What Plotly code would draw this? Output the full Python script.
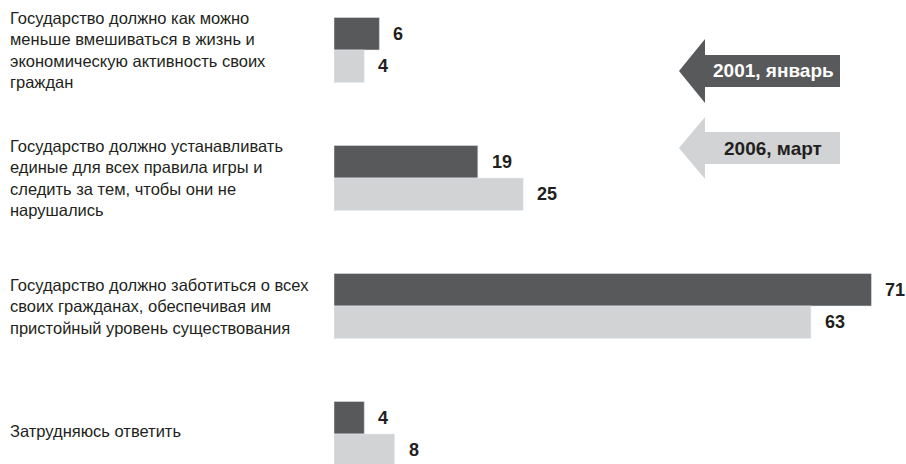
import plotly.graph_objects as go

categories = [
    "Государство должно как можно<br>меньше вмешиваться в жизнь и<br>экономическую активность своих<br>граждан",
    "Государство должно устанавливать<br>единые для всех правила игры и<br>следить за тем, чтобы они не<br>нарушались",
    "Государство должно заботиться о всех<br>своих гражданах, обеспечивая им<br>пристойный уровень существования",
    "Затрудняюсь ответить",
]
series_names = ["2001, январь", "2006, март"]
values_2001 = [6, 19, 71, 4]
values_2006 = [4, 25, 63, 8]

DARK = "#58595b"
LIGHT = "#d1d3d4"
TXT = "#231f20"
W, H = 906, 464
REG = "Liberation Sans, Arial, sans-serif"

pos = list(range(len(categories)))

fig = go.Figure()
fig.add_trace(go.Bar(y=pos, x=values_2001, orientation="h", marker_color=DARK,
                     name=series_names[0], hoverinfo="skip"))
fig.add_trace(go.Bar(y=pos, x=values_2006, orientation="h", marker_color=LIGHT,
                     name=series_names[1], hoverinfo="skip"))

ann = []
half = 0.127
label_shift = [0, 0, 0, 3]
for i, (a, b) in enumerate(zip(values_2001, values_2006)):
    for v, off in ((a, -half), (b, half)):
        ann.append(dict(x=v, y=i + off, xref="x", yref="y", text=f"<b>{v}</b>",
                        showarrow=False, xanchor="left", yanchor="middle", xshift=12,
                        font=dict(family=REG, size=18, color=TXT)))
    ann.append(dict(x=8 / W, y=i, xref="paper", yref="y", text=categories[i],
                    showarrow=False, xanchor="left", yanchor="middle", align="left",
                    yshift=label_shift[i],
                    font=dict(family=REG, size=16.5, color=TXT)))


def P(x, y):
    return f"{x / W:.5f},{1 - y / H:.5f}"


def arrow(cy, hh, bh):
    pts = [(679, cy), (705, cy - hh), (705, cy - bh), (840, cy - bh),
           (840, cy + bh), (705, cy + bh), (705, cy + hh)]
    return "M " + " L ".join(P(x, y) for x, y in pts) + " Z"


shapes = [
    dict(type="path", xref="paper", yref="paper", path=arrow(71, 32, 16),
         fillcolor=DARK, line=dict(width=0)),
    dict(type="path", xref="paper", yref="paper", path=arrow(148, 31, 16),
         fillcolor=LIGHT, line=dict(width=0)),
]
ann.append(dict(x=773 / W, y=1 - 71 / H, xref="paper", yref="paper",
                text=f"<b>{series_names[0]}</b>", showarrow=False,
                xanchor="center", yanchor="middle",
                font=dict(family=REG, size=19, color="white")))
ann.append(dict(x=773 / W, y=1 - 148 / H, xref="paper", yref="paper",
                text=f"<b>{series_names[1]}</b>", showarrow=False,
                xanchor="center", yanchor="middle",
                font=dict(family=REG, size=19, color=TXT)))

fig.update_layout(
    width=W, height=H,
    margin=dict(l=0, r=0, t=0, b=0),
    paper_bgcolor="white", plot_bgcolor="white",
    barmode="group", bargap=0.492, bargroupgap=0,
    showlegend=False,
    xaxis=dict(domain=[334 / W, 1], range=[0, (W - 334) / 7.57], visible=False,
               fixedrange=True),
    yaxis=dict(range=[(H - 50) / 128, -50 / 128], visible=False, fixedrange=True),
    annotations=ann, shapes=shapes,
)

fig.write_html("out.html")
